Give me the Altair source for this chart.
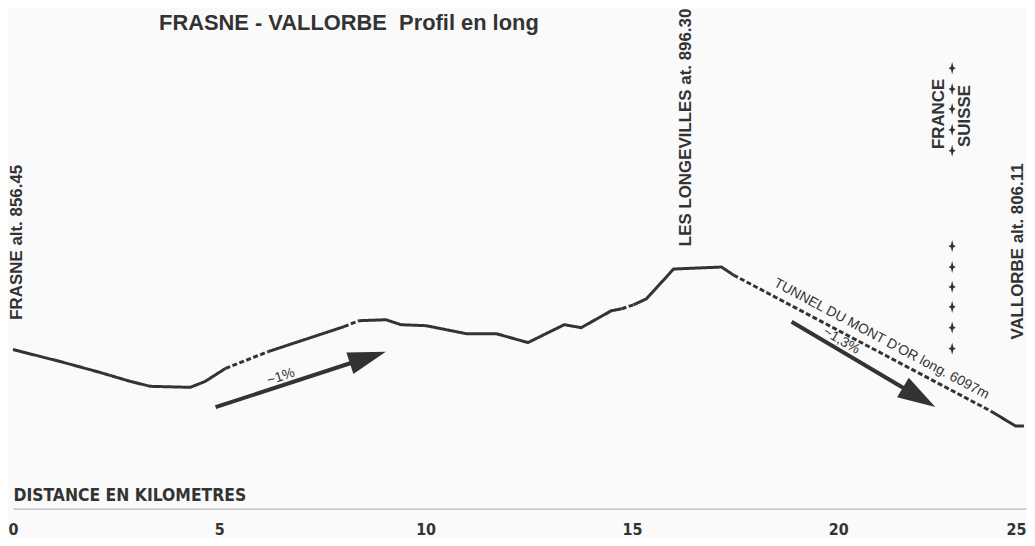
import altair as alt
import pandas as pd

# ---------------- data ----------------
# profile segments: distance (km), relative height (schematic units), line style
seg_A_km = [0.00, 1.14, 2.11, 2.84, 3.33, 4.30, 4.66, 5.15]
seg_A_h = [165, 153, 142, 133, 128, 127, 133, 146]
seg_B_km = [5.15, 6.19]
seg_B_h = [146, 163]
seg_C_km = [6.19, 8.02]
seg_C_h = [163, 188]
seg_D_km = [8.02, 8.38]
seg_D_h = [188, 194]
seg_E_km = [8.38, 9.04, 9.40, 10.01, 10.98, 11.71, 12.48, 13.36, 13.77, 14.50, 14.75]
seg_E_h = [194, 195, 190, 189, 181, 181, 172, 190, 187, 204, 206]
seg_F_km = [14.75, 15.04]
seg_F_h = [206, 210]
seg_G_km = [15.04, 15.35, 16.01, 17.17, 17.46]
seg_G_h = [210, 216, 246, 248, 240]
seg_H_km = [17.46, 23.70]
seg_H_h = [240, 103]
seg_I_km = [23.70, 24.30, 24.50]
seg_I_h = [103, 88, 88]

segments = [
    ("A", "solid", seg_A_km, seg_A_h),
    ("B", "dotted", seg_B_km, seg_B_h),
    ("C", "solid", seg_C_km, seg_C_h),
    ("D", "dotted", seg_D_km, seg_D_h),
    ("E", "solid", seg_E_km, seg_E_h),
    ("F", "dotted", seg_F_km, seg_F_h),
    ("G", "solid", seg_G_km, seg_G_h),
    ("H", "dotted", seg_H_km, seg_H_h),
    ("I", "solid", seg_I_km, seg_I_h),
]

# axis: the drawing is cropped, its last tick sits on the edge and reads "25"
axis_end_km = 24.55
tick_values = [0, 5, 10, 15, 20, axis_end_km]

# place labels (vertical)
place_names = ["FRASNE alt. 856.45", "LES LONGEVILLES at. 896.30", "VALLORBE alt. 806.11"]
place_km = [0.11, 16.30, 24.36]
place_h = [195, 269, 175]

border_names = ["FRANCE", "SUISSE"]
border_km = [22.44, 23.07]
border_h = [402, 400]

marker_km = 22.76
marker_h = [448, 427, 407, 386, 365, 269, 248, 228, 208, 187, 166]

# gradient arrows
arrow_km = [4.91, 18.87]
arrow_h = [107, 193]
arrow_km2 = [8.60, 21.96]
arrow_h2 = [157, 117]
arrow_angle = [342, 31]

grade_labels = ["~1%", "~1,3%"]
grade_km = [6.56, 19.97]
grade_h = [129, 166]
grade_angle = [342, 30]

tunnel_label = ["TUNNEL DU MONT D'OR long. 6097m"]
tunnel_km = [20.91]
tunnel_h = [165]

title_text = ["FRASNE - VALLORBE\u00a0 Profil en long"]
title_km = [3.54]
title_h = [493]

# ---------------- build ----------------
rows = []
for sid, style, kms, hs in segments:
    for i, (k, h) in enumerate(zip(kms, hs)):
        rows.append({"km": k, "h": h, "seg": sid, "style": style, "ord": i})
profile_df = pd.DataFrame(rows)

INK = "#333333"
BOLD = "Liberation Sans"
NARROW = "Liberation Sans Narrow, DejaVu Sans Condensed, Liberation Sans"

xs = alt.Scale(domain=[0, axis_end_km], nice=False, zero=False)
ys = alt.Scale(domain=[5, 507], nice=False, zero=False)

x_axis = alt.Axis(
    values=tick_values, ticks=False, grid=False,
    domainColor="#a8a8a8", domainWidth=1,
    labelFont=NARROW, labelFontSize=16, labelFontWeight="bold", labelColor=INK,
    labelPadding=13, labelFlush=False,
    labelExpr="datum.value > 24 ? '25' : datum.label",
    labelAlign={"condition": {"test": "datum.value > 24", "value": "right"}, "value": "center"},
    title="DISTANCE EN KILOMETRES", titleFont=NARROW, titleFontSize=17.5,
    titleFontWeight="bold", titleColor=INK, titleAnchor="start", titleAlign="left",
    titleX=0, titleY=-13, titleBaseline="middle",
)

base_x = alt.X("km:Q", scale=xs, axis=x_axis)
base_y = alt.Y("h:Q", scale=ys, axis=None)

profile = alt.Chart(profile_df).mark_line(
    color=INK, strokeWidth=3, strokeCap="butt", strokeJoin="round"
).encode(
    x=base_x, y=base_y, detail="seg:N", order="ord:Q",
    strokeDash=alt.StrokeDash(
        "style:N",
        scale=alt.Scale(domain=["solid", "dotted"], range=[[1, 0], [5, 2.5]]),
        legend=None,
    ),
)

arrow_df = pd.DataFrame({"km": arrow_km, "h": arrow_h, "km2": arrow_km2, "h2": arrow_h2, "ang": arrow_angle})
shafts = alt.Chart(arrow_df).mark_rule(color=INK, strokeWidth=4, strokeCap="butt").encode(
    x=alt.X("km:Q", scale=xs), y=alt.Y("h:Q", scale=ys), x2="km2:Q", y2="h2:Q"
)
heads = alt.Chart(arrow_df).mark_point(
    shape="M 1 0 L -1 -0.6 L -1 0.6 Z", filled=True, size=1444, color=INK, opacity=1, strokeWidth=0
).encode(
    x=alt.X("km2:Q", scale=xs), y=alt.Y("h2:Q", scale=ys), angle=alt.Angle("ang:Q", scale=None)
)

marker_df = pd.DataFrame({"km": [marker_km] * len(marker_h), "h": marker_h})
markers = alt.Chart(marker_df).mark_point(
    shape="M 0 -1 L 0.2 -0.22 L 0.6 0 L 0.2 0.22 L 0 1 L -0.2 0.22 L -0.6 0 L -0.2 -0.22 Z",
    filled=True, size=150, color=INK, opacity=1, strokeWidth=0,
).encode(x=alt.X("km:Q", scale=xs), y=alt.Y("h:Q", scale=ys))

place_df = pd.DataFrame({"km": place_km, "h": place_h, "t": place_names})
places = alt.Chart(place_df).mark_text(
    angle=270, align="left", baseline="middle", font=BOLD, fontWeight="bold", fontSize=17, color=INK
).encode(x=alt.X("km:Q", scale=xs), y=alt.Y("h:Q", scale=ys), text="t:N")

border_df = pd.DataFrame({"km": border_km, "h": border_h, "t": border_names})
borders = alt.Chart(border_df).mark_text(
    angle=270, align="center", baseline="middle", font=BOLD, fontWeight="bold", fontSize=17, color=INK
).encode(x=alt.X("km:Q", scale=xs), y=alt.Y("h:Q", scale=ys), text="t:N")

grade_df = pd.DataFrame({"km": grade_km, "h": grade_h, "t": grade_labels, "ang": grade_angle})
grades = alt.Chart(grade_df).mark_text(
    align="center", baseline="bottom", dy=-2, font=BOLD, fontSize=14, color=INK
).encode(
    x=alt.X("km:Q", scale=xs), y=alt.Y("h:Q", scale=ys), text="t:N",
    angle=alt.Angle("ang:Q", scale=None),
)

tunnel_df = pd.DataFrame({"km": tunnel_km, "h": tunnel_h, "t": tunnel_label})
tunnel = alt.Chart(tunnel_df).mark_text(
    angle=28, align="center", baseline="bottom", dy=-5, font=BOLD, fontSize=14, color=INK
).encode(x=alt.X("km:Q", scale=xs), y=alt.Y("h:Q", scale=ys), text="t:N")

title_df = pd.DataFrame({"km": title_km, "h": title_h, "t": title_text})
title = alt.Chart(title_df).mark_text(
    align="left", baseline="middle", font=BOLD, fontWeight="bold", fontSize=22, color=INK
).encode(x=alt.X("km:Q", scale=xs), y=alt.Y("h:Q", scale=ys), text="t:N")

chart = alt.layer(
    profile, shafts, heads, markers, places, borders, grades, tunnel, title
).properties(
    width=1019, height=502,
    padding={"left": 5, "top": 0, "right": 1, "bottom": 28},
    autosize=alt.AutoSizeParams(type="none"),
    background="#fafafa",
).configure_view(stroke=None)

chart.save("out.html", embed_options={"renderer": "svg", "actions": False})
